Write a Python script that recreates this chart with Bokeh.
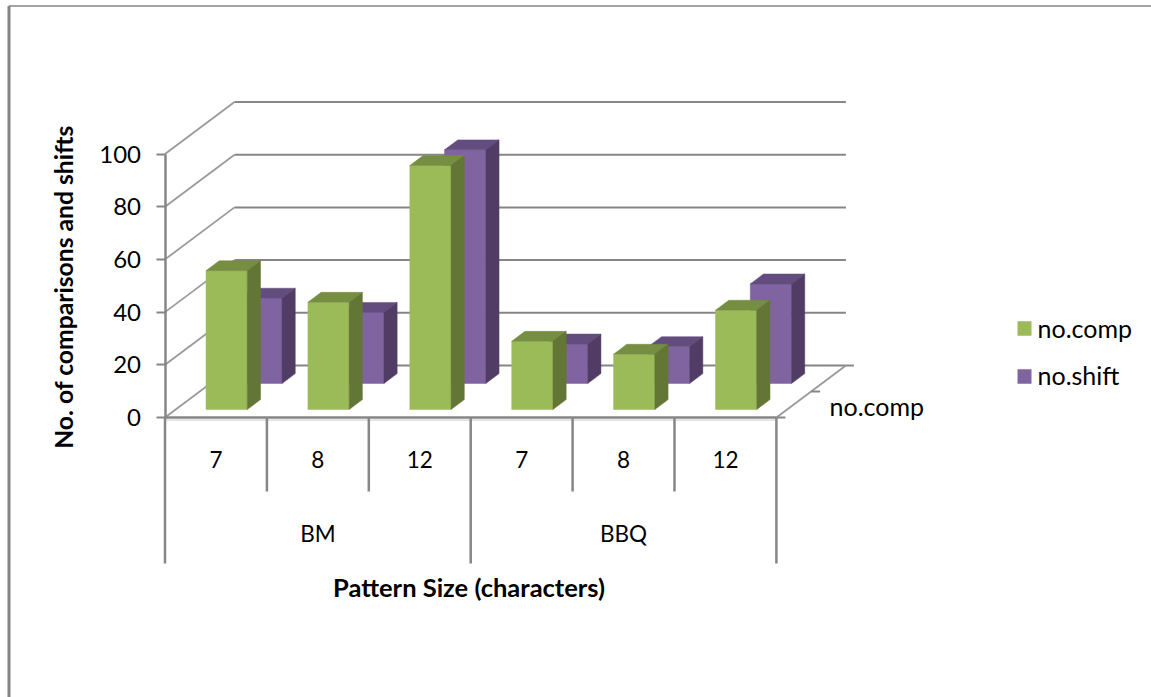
import math

from bokeh.core.properties import value
from bokeh.embed import file_html
from bokeh.models import ColumnDataSource, FixedTicker, Range1d
from bokeh.plotting import figure
from bokeh.resources import INLINE

# Chart data
groups = ["BM", "BBQ"]
pattern_sizes = ["7", "8", "12", "7", "8", "12"]
series_names = ["no.comp", "no.shift"]
no_comp = [52.7, 40.7, 92.6, 25.9, 21.0, 37.7]
no_shift = [32.4, 27.0, 88.7, 15.0, 14.0, 37.8]
y_ticks = [0, 20, 40, 60, 80, 100]

# Styles
GREY = "#868686"
FONT = "Lato"
GREEN = dict(front="#9BBB59", top="#758E41", side="#647636")
PURPLE = dict(front="#8064A2", top="#634D7E", side="#513C66")

# Page geometry of the front plane: one category and one value unit, in pixels
W, H = 1151, 697
CAT_PX = 101.9
UNIT_PX = 2.635
ORIGIN_X, ORIGIN_Y = 164.5, 417.0

# Oblique projection of the depth axis, in data units per full depth
DEPTH_DX = 69.5 / CAT_PX
DEPTH_DY = 52.0 / UNIT_PX
BAR_WIDTH = 0.405
BAR_DEPTH = 0.19
SERIES_Z = [0.154, 0.654]


def px_x(px):
    return (px - ORIGIN_X) / CAT_PX


def px_y(py):
    return (ORIGIN_Y - py) / UNIT_PX


def project(x, v, z):
    return x + z * DEPTH_DX, v + z * DEPTH_DY


p = figure(
    width=W,
    height=H,
    x_range=Range1d(px_x(0), px_x(W)),
    y_range=Range1d(px_y(H), px_y(0)),
    output_backend="svg",
    toolbar_location=None,
    x_axis_location=None,
    min_border=0,
    background_fill_color="white",
    border_fill_color="white",
    outline_line_color=None,
)
p.grid.visible = False

# Value axis running along the front-left corner
axis = p.yaxis[0]
axis.fixed_location = 0
axis.bounds = (0, 100)
axis.ticker = FixedTicker(ticks=y_ticks)
axis.minor_tick_line_color = None
axis.major_tick_in = 0
axis.major_tick_out = 9
axis.major_tick_line_color = GREY
axis.major_tick_line_width = 2
axis.axis_line_color = GREY
axis.axis_line_width = 2.5
axis.major_label_standoff = 15
axis.major_label_text_font = FONT
axis.major_label_text_font_size = "24px"
axis.major_label_text_color = "black"


def seg(x0, y0, x1, y1, width=2.0, color=GREY):
    p.segment([x0], [y0], [x1], [y1], line_color=color, line_width=width)


def label(x, y, text, size="22.5px", style="normal", align="center", angle=0.0):
    p.text(
        [x], [y], text=[text],
        text_font=value(FONT),
        text_font_size=size,
        text_font_style=style,
        text_align=align,
        text_baseline="middle",
        text_color="black",
        angle=angle,
    )


# Document frame
seg(px_x(8.5), px_y(5.5), px_x(8.5), px_y(H), width=3, color=GREY)
seg(px_x(8.5), px_y(5.5), px_x(W), px_y(5.5), width=1.5, color=GREY)

# Walls: side and back gridlines
for t in y_ticks:
    bx, by = project(0, t, 1)
    seg(0, t, bx, by, width=1.8, color="#9a9a9a")
    rx, ry = project(len(no_comp), t, 1)
    seg(bx, by, rx, ry, width=2.0)

# Floor edges and depth axis
n = len(no_comp)
seg(0, 0, n, 0, width=2.5)
seg(0, -1.0, n, -1.0, width=1.8, color="#e2e2e2")
ex, ey = project(n, 0, 1)
seg(n, 0, ex, ey, width=1.8, color="#9a9a9a")
seg(n, 0, n + 9 / CAT_PX, 0, width=2)
seg(ex, ey, ex + 8 / CAT_PX, ey, width=2)
mx, my = project(n, 0, 0.5)
seg(mx, my, mx + 9 / CAT_PX, my, width=2)


def box_faces(i, v, z):
    x0 = i + 0.5 - BAR_WIDTH / 2
    x1 = i + 0.5 + BAR_WIDTH / 2
    z1 = z + BAR_DEPTH
    fb_l = project(x0, 0, z)
    fb_r = project(x1, 0, z)
    ft_l = project(x0, v, z)
    ft_r = project(x1, v, z)
    bt_l = project(x0, v, z1)
    bt_r = project(x1, v, z1)
    bb_r = project(x1, 0, z1)
    return (
        [fb_l, fb_r, ft_r, ft_l],
        [ft_l, ft_r, bt_r, bt_l],
        [fb_r, bb_r, bt_r, ft_r],
    )


# Rear series goes first so that the front series covers it
for values, z, colors in ((no_shift, SERIES_Z[1], PURPLE), (no_comp, SERIES_Z[0], GREEN)):
    xs, ys, fills = [], [], []
    for i, v in enumerate(values):
        faces = box_faces(i, v, z)
        for face, key in zip(faces, ("front", "top", "side")):
            xs.append([pt[0] for pt in face])
            ys.append([pt[1] for pt in face])
            fills.append(colors[key])
    src = ColumnDataSource(dict(xs=xs, ys=ys, fill=fills))
    p.patches("xs", "ys", source=src, fill_color="fill", line_color="fill", line_width=0.5)

# Two-level category axis beneath the floor
for i in range(n + 1):
    long_rule = i % 3 == 0
    bottom = px_y(563) if long_rule else px_y(491)
    seg(i, 0, i, bottom, width=2.5)

for i, s in enumerate(pattern_sizes):
    label(i + 0.5, px_y(459), s)
for g, name in enumerate(groups):
    label(3 * g + 1.5, px_y(533), name)

# Axis titles
label(px_x(468.5), px_y(586), "Pattern Size (characters)", size="25.5px", style="bold")
label(px_x(63), px_y(286.5), "No. of comparisons and shifts", size="24.7px", style="bold", angle=math.pi / 2)
label(px_x(829), px_y(405), series_names[0], size="25px", align="left")

# Legend
for name, color, cy, ty in zip(series_names, (GREEN["front"], PURPLE["front"]), (328, 376), (327, 374)):
    p.rect([px_x(1024)], [px_y(cy)], width=14 / CAT_PX, height=14.5 / UNIT_PX,
           fill_color=color, line_color=None)
    label(px_x(1037), px_y(ty), name, size="25px", align="left")

open("out.html", "w").write(file_html(p, INLINE))
